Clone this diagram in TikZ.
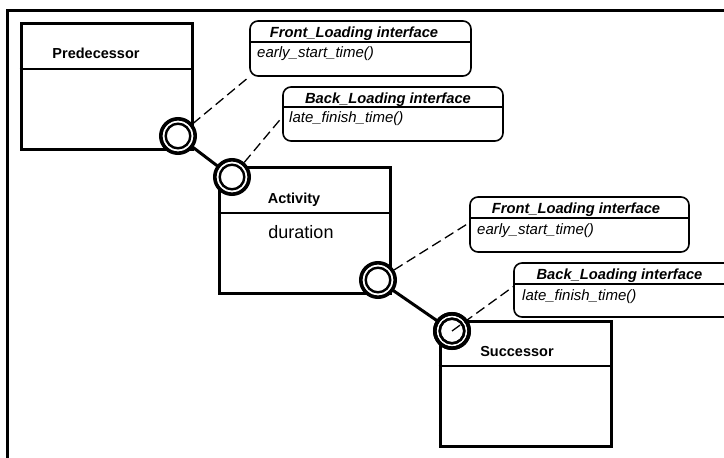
\documentclass[tikz,border=0pt]{standalone}
\usepackage{fontspec}
\setmainfont{Liberation Sans}
\usetikzlibrary{calc}
\begin{document}
\begin{tikzpicture}[x=1pt,y=-1pt,
  classbox/.style={draw, rectangle, line width=3pt, inner sep=0pt, fill=white},
  notebox/.style={draw, rectangle, rounded corners=8pt, line width=1.6pt, inner sep=0pt, fill=white},
  divider/.style={line width=1.4pt},
  classname/.style={anchor=base, inner sep=0pt, font=\fontsize{14.5}{17}\selectfont\bfseries},
  attrtext/.style={anchor=base, inner sep=0pt, font=\fontsize{18}{21}\selectfont},
  notetitle/.style={anchor=base, inner sep=0pt, font=\fontsize{14.7}{17}\selectfont\bfseries\itshape},
  optext/.style={anchor=base west, inner sep=0pt, font=\fontsize{15}{18}\selectfont\itshape},
  port/.style={draw, circle, line width=3.6pt, minimum size=34.4pt, inner sep=0pt, fill=white},
  portinner/.style={line width=2.4pt},
  link/.style={line width=3pt},
  realize/.style={line width=1.3pt, dash pattern=on 10pt off 5pt}]
\useasboundingbox (0,0) rectangle (724,458);
\clip (0,0) rectangle (724,458);

% outer frame
\draw[line width=3pt] (7.5,10) rectangle (760,480);

% classes
\node[classbox, minimum width=171pt, minimum height=126pt] (pred) at (106.5,86) {};
\draw[divider] (pred.west |- 0,69) -- (pred.east |- 0,69);
\node[classname] (predname) at (96,58) {Predecessor};

\node[classbox, minimum width=171pt, minimum height=126pt] (act) at (304.5,230) {};
\draw[divider] (act.west |- 0,213) -- (act.east |- 0,213);
\node[classname] (actname) at (294,203) {Activity};
\node[attrtext] (actattr) at (301,238) {duration};

\node[classbox, minimum width=171pt, minimum height=125pt] (succ) at (525.5,383.5) {};
\draw[divider] (succ.west |- 0,366) -- (succ.east |- 0,366);
\node[classname] (succname) at (517,356) {Successor};

% interface notes
\node[notebox, minimum width=221pt, minimum height=55pt] (n1) at (360.5,48.5) {};
\draw[divider] (n1.west |- 0,42) -- (n1.east |- 0,42);
\node[notetitle] (n1t) at (354,37) {Front\_Loading interface};
\node[optext] (n1o) at (257,57) {early\_start\_time()};

\node[notebox, minimum width=220pt, minimum height=54pt] (n2) at (393,114) {};
\draw[divider] (n2.west |- 0,107) -- (n2.east |- 0,107);
\node[notetitle] (n2t) at (388,103) {Back\_Loading interface};
\node[optext] (n2o) at (289,122) {late\_finish\_time()};

\node[notebox, minimum width=219pt, minimum height=55pt] (n3) at (579.5,224.5) {};
\draw[divider] (n3.west |- 0,218) -- (n3.east |- 0,218);
\node[notetitle] (n3t) at (576,213) {Front\_Loading interface};
\node[optext] (n3o) at (477,234) {early\_start\_time()};

\node[notebox, minimum width=220pt, minimum height=54pt] (n4) at (624,290) {};
\draw[divider] (n4.west |- 0,284) -- (n4.east |- 0,284);
\node[notetitle] (n4t) at (619.5,279) {Back\_Loading interface};
\node[optext] (n4o) at (522,300) {late\_finish\_time()};

% ports
\coordinate (p1) at (178,136);
\coordinate (p2) at (232,177);
\coordinate (p3) at (378,280);
\coordinate (p4) at (452,331);
\draw[link] (p1) -- (p2);
\draw[link] (p3) -- (p4);
\foreach \i in {1,2,3,4} {
  \node[port] (c\i) at (p\i) {};
  \draw[portinner] (c\i.center) circle (12.3);
}

% realization links to the interface notes
\draw[realize] (c1) -- (n1.south west);
\draw[realize] (c2) -- ($(n2.north west)!0.556!(n2.south west)$);
\draw[realize] (c3) -- ($(n3.north west)!0.47!(n3.south west)$);
\draw[realize] (c4.center) -- ($(n4.north west)!0.44!(n4.south west)$);
\draw[line width=3.6pt] (c4.center) circle (17.2);
\draw[portinner] (c4.center) circle (12.3);
\end{tikzpicture}
\end{document}
